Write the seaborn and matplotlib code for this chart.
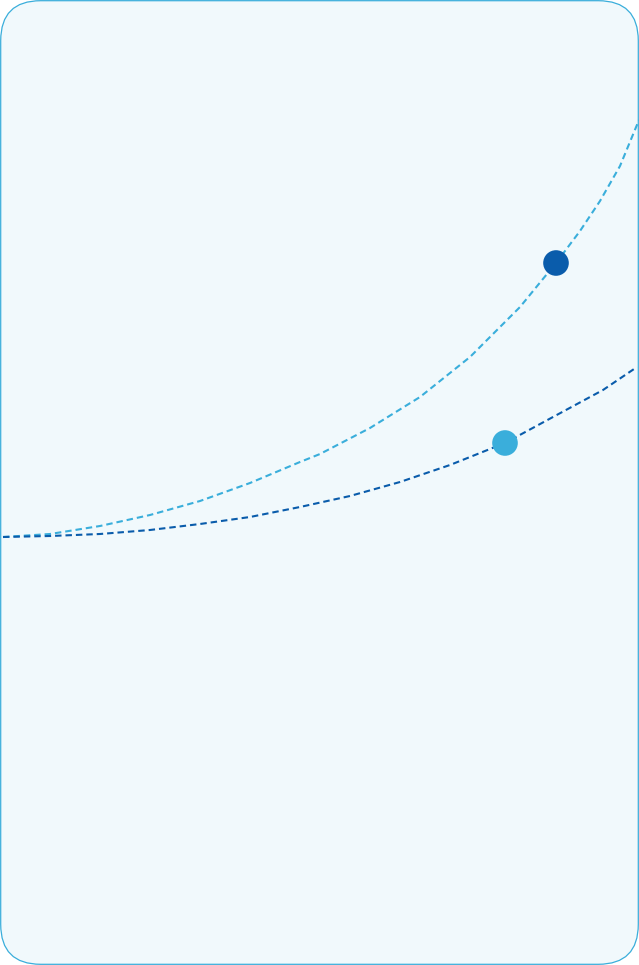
import numpy as np
import pandas as pd
import matplotlib
matplotlib.use("Agg")
import matplotlib.pyplot as plt
from matplotlib.patches import FancyBboxPatch
import seaborn as sns

# curve values (pixel space, y down)
upper_x = [3, 50, 100, 150, 200, 250, 300, 320, 370, 420, 470, 520, 556, 580, 600, 620, 639]
upper_y = [537, 534, 526, 515, 501, 483, 462, 454, 428, 397, 357, 307, 263, 231, 201, 166, 120]

lower_x = [3, 50, 100, 150, 200, 250, 300, 350, 400, 450, 505, 553, 603, 637]
lower_y = [537, 536, 534, 530, 524, 517, 507, 496, 482, 465, 443, 417, 390, 367]

# markers
dot_x = [556, 505]
dot_y = [263, 443]
dot_kind = ["dark", "light"]

light_blue = "#3AAEDB"
dark_blue = "#0A5CAB"
fill_col = "#F1F9FC"

sns.set_style("white")

fig = plt.figure(figsize=(6.39, 9.65), dpi=100)
ax = fig.add_axes([0, 0, 1, 1])

# card background
card = FancyBboxPatch((0.7, 0.7), 637.6, 963.6,
                      boxstyle="round,pad=0,rounding_size=40",
                      facecolor=fill_col, edgecolor=light_blue, linewidth=0.9,
                      zorder=0)
ax.add_patch(card)

up = pd.DataFrame({"x": upper_x, "y": upper_y})
lo = pd.DataFrame({"x": lower_x, "y": lower_y})

sns.lineplot(data=up, x="x", y="y", ax=ax, color=light_blue, linewidth=1.5,
             sort=False, zorder=2).lines[-1].set_dashes((3.1, 1.9))
sns.lineplot(data=lo, x="x", y="y", ax=ax, color=dark_blue, linewidth=1.5,
             sort=False, zorder=2).lines[-1].set_dashes((3.1, 1.9))

dots = pd.DataFrame({"x": dot_x, "y": dot_y, "kind": dot_kind})
sns.scatterplot(data=dots, x="x", y="y", hue="kind",
                palette={"dark": dark_blue, "light": light_blue},
                s=340, linewidth=0, ax=ax, legend=False, zorder=3)

ax.set_xlim(0, 639)
ax.set_ylim(965, 0)
ax.axis("off")

fig.savefig("out.png", dpi=100, facecolor="white")
